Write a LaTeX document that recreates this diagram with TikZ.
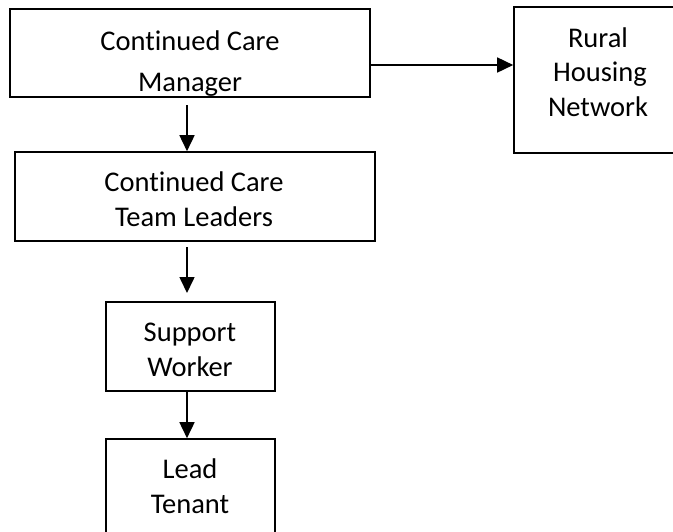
\documentclass[tikz,border=0pt]{standalone}
\usepackage{fontspec}
\setmainfont{Carlito}[Ligatures=NoCommon]
\usetikzlibrary{arrows.meta}
\tikzset{
  box/.style={draw=black, line width=1.6pt, inner sep=0pt, fill=none},
  lbl/.style={anchor=base, inner sep=0pt, font=\fontsize{28.5}{35}\selectfont},
  arr/.style={draw=black, line width=1.6pt, -{Triangle[length=16pt,width=15pt]}}
}
\begin{document}
\begin{tikzpicture}[x=1pt,y=-1pt]
\useasboundingbox (0,0) rectangle (673,531);
\clip (0,0) rectangle (673,531);
\fill[white] (0,0) rectangle (673,531);
% boxes
\node[box, minimum width=360pt, minimum height=88pt] (b1) at (190,53) {};
\node[box, minimum width=166pt, minimum height=146pt] (b5) at (597,80) {};
\node[box, minimum width=360pt, minimum height=89pt] (b2) at (195,196.5) {};
\node[box, minimum width=169pt, minimum height=89pt] (b3) at (190.5,346.5) {};
\node[box, minimum width=169pt, minimum height=121pt] (b4) at (190.5,499.5) {};
% texts
\node[lbl] (t1a) at (190,50.5) {Continued Care};
\begin{scope}
\clip (b1.north west) rectangle (b1.south east);
\node[lbl] (t1b) at (190,91.5) {Manager};
\end{scope}
\node[lbl] (t5a) at (598,47) {Rural};
\node[lbl] (t5b) at (600,81.5) {Housing};
\node[lbl] (t5c) at (598,116) {Network};
\node[lbl] (t2a) at (194,191.5) {Continued Care};
\node[lbl] (t2b) at (194,226.5) {Team Leaders};
\node[lbl] (t3a) at (190,341.5) {Support};
\node[lbl] (t3b) at (190,376.5) {Worker};
\node[lbl] (t4a) at (190,478) {Lead};
\node[lbl] (t4b) at (190,513) {Tenant};
% connectors
\coordinate (ry) at (0,65);
\draw[arr] (b1.east |- ry) -- (b5.west |- ry);
\coordinate (s1) at (187,105);
\draw[arr] (s1) -- (s1 |- b2.north);
\coordinate (s2) at (187,247);
\coordinate (e2) at (187,293);
\draw[arr] (s2) -- (e2);
\coordinate (s3) at (187,0);
\draw[arr] (s3 |- b3.south) -- (s3 |- b4.north);
\end{tikzpicture}
\end{document}
